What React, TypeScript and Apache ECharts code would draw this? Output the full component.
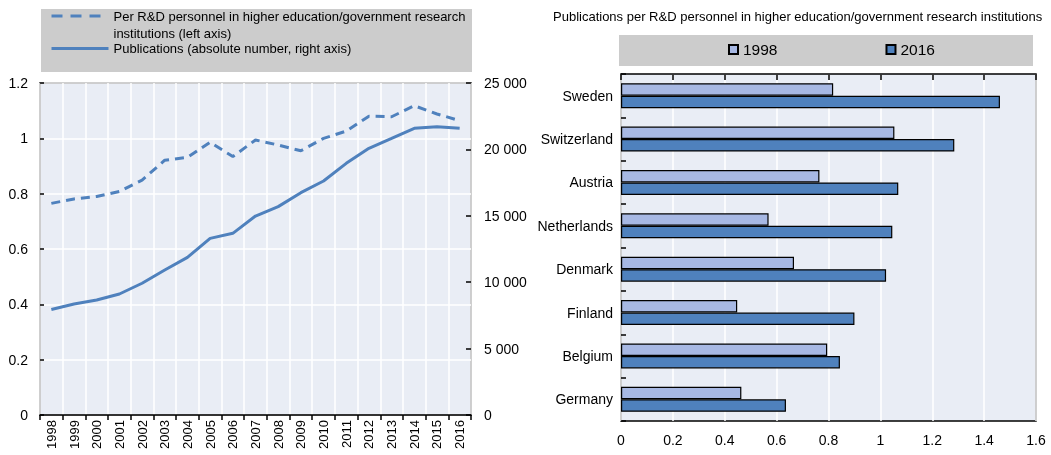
import React, { useEffect, useRef } from "react";
import * as echarts from "echarts";

const years = ["1998","1999","2000","2001","2002","2003","2004","2005","2006","2007","2008","2009","2010","2011","2012","2013","2014","2015","2016"];
const perPersonnel = [0.765,0.781,0.79,0.808,0.849,0.921,0.931,0.986,0.934,0.994,0.976,0.955,1.0,1.026,1.08,1.078,1.118,1.088,1.064];
const publications = [7950,8360,8660,9110,9920,10920,11870,13300,13680,14980,15690,16740,17620,18950,20080,20830,21590,21710,21590];

const countries = ["Sweden","Switzerland","Austria","Netherlands","Denmark","Finland","Belgium","Germany"];
const val1998 = [0.818,1.054,0.765,0.569,0.667,0.448,0.795,0.464];
const val2016 = [1.461,1.285,1.069,1.046,1.022,0.9,0.844,0.636];

const leftTicks = { min: 0, max: 1.2, interval: 0.2 };
const rightTicks = { min: 0, max: 25000, interval: 5000 };
const barTicks = { min: 0, max: 1.6, interval: 0.2 };

const nameDashed = "Per R&D personnel in higher education/government research\ninstitutions (left axis)";
const nameSolid = "Publications (absolute number, right axis)";
const chartTitle = "Publications per R&D personnel in higher education/government research institutions";

const BLUE = "#4f81bd";
const LIGHT = "#a7b8e3";
const BG = "#e9edf5";
const FONT = "Liberation Sans";

const fmtThousands = (v: number) => String(v).replace(/\B(?=(\d{3})+(?!\d))/g, " ");

export default function App() {
  const ref = useRef<HTMLDivElement>(null);
  useEffect(() => {
    if (!ref.current) return;
    const chart = echarts.init(ref.current, null, { renderer: "svg" });
    const option: any = {
      animation: false,
      textStyle: { fontFamily: FONT, color: "#000" },
      title: {
        text: chartTitle,
        left: 553,
        top: 10,
        padding: 0,
        textStyle: { fontSize: 13, fontWeight: "normal", color: "#000", fontFamily: FONT },
      },
      graphic: [
        { type: "rect", shape: { x: 41, y: 9, width: 431, height: 63 }, style: { fill: "#cccccc" }, z: 0 },
        { type: "rect", shape: { x: 619, y: 35, width: 414, height: 31 }, style: { fill: "#cccccc" }, z: 0 },
      ],
      legend: [
        {
          data: [nameDashed],
          formatter: (n: string) => "\n" + n,
          left: 50,
          top: -9.5,
          padding: 0,
          itemWidth: 57,
          itemHeight: 14,
          itemGap: 0,
          itemTextGap: 2,
          itemStyle: { opacity: 0 },
          lineStyle: { width: 3, type: [11, 8], color: BLUE },
          textStyle: { fontSize: 13, lineHeight: 17, color: "#000", fontFamily: FONT },
        },
        {
          data: [nameSolid],
          left: 50,
          top: 42,
          padding: 0,
          itemWidth: 57,
          itemHeight: 14,
          itemTextGap: 2,
          itemStyle: { opacity: 0 },
          lineStyle: { width: 3, color: BLUE },
          textStyle: { fontSize: 13, color: "#000", fontFamily: FONT },
        },
        {
          data: ["1998", "2016"],
          left: 728,
          top: 41.5,
          padding: 0,
          icon: "rect",
          itemWidth: 9,
          itemHeight: 9,
          itemGap: 108,
          itemTextGap: 1,
          textStyle: { fontSize: 15.5, color: "#000", fontFamily: FONT },
        },
      ],
      grid: [
        { left: 40, top: 83, width: 431, height: 332, show: true, backgroundColor: BG, borderColor: "#000", borderWidth: 1.5 },
        { left: 621, top: 74, width: 415, height: 347, show: true, backgroundColor: BG, borderColor: "#000", borderWidth: 1.5 },
      ],
      xAxis: [
        {
          type: "category",
          gridIndex: 0,
          data: years,
          boundaryGap: true,
          axisLine: { show: true, lineStyle: { color: "#000", width: 1.5 } },
          axisTick: { show: true, inside: false, length: 5, interval: 0, lineStyle: { color: "#000", width: 1.5 } },
          axisLabel: { rotate: 90, interval: 0, fontSize: 13, margin: 5, color: "#000", fontFamily: FONT },
          splitLine: { show: true, interval: 0, lineStyle: { color: "#ffffff", width: 1.5 } },
        },
        {
          type: "value",
          gridIndex: 1,
          position: "bottom",
          ...barTicks,
          axisLine: { show: false },
          axisTick: { show: false },
          axisLabel: { fontSize: 14, margin: 12, color: "#000", fontFamily: FONT },
          splitLine: { show: true, lineStyle: { color: "#ffffff", width: 1.5 } },
        },
        {
          type: "value",
          gridIndex: 1,
          position: "top",
          ...barTicks,
          axisLine: { show: false },
          axisTick: { show: true, inside: true, length: 6, lineStyle: { color: "#000", width: 1.5 } },
          axisLabel: { show: false },
          splitLine: { show: false },
        },
      ],
      yAxis: [
        {
          type: "value",
          gridIndex: 0,
          position: "left",
          ...leftTicks,
          axisLine: { show: false },
          axisTick: { show: true, inside: true, length: 4, lineStyle: { color: "#000", width: 1.5 } },
          axisLabel: { fontSize: 14, margin: 12, color: "#000", fontFamily: FONT },
          splitLine: { show: true, lineStyle: { color: "#ffffff", width: 1.5 } },
        },
        {
          type: "value",
          gridIndex: 0,
          position: "right",
          ...rightTicks,
          axisLine: { show: false },
          axisTick: { show: true, inside: true, length: 5, lineStyle: { color: "#000", width: 1.5 } },
          axisLabel: { fontSize: 14, margin: 13, color: "#000", fontFamily: FONT, formatter: fmtThousands },
          splitLine: { show: false },
        },
        {
          type: "category",
          gridIndex: 1,
          data: countries,
          inverse: true,
          axisLine: { show: false },
          axisTick: { show: true, inside: true, length: 5, lineStyle: { color: "#000", width: 1.5 } },
          axisLabel: { fontSize: 14, margin: 8, color: "#000", fontFamily: FONT },
          splitLine: { show: false },
        },
      ],
      series: [
        {
          name: nameDashed,
          type: "line",
          xAxisIndex: 0,
          yAxisIndex: 0,
          data: perPersonnel,
          symbol: "none",
          lineStyle: { color: BLUE, width: 3, type: [9, 6] },
          itemStyle: { color: BLUE },
        },
        {
          name: nameSolid,
          type: "line",
          xAxisIndex: 0,
          yAxisIndex: 1,
          data: publications,
          symbol: "none",
          lineStyle: { color: BLUE, width: 3 },
          itemStyle: { color: BLUE },
        },
        {
          name: "1998",
          type: "bar",
          xAxisIndex: 1,
          yAxisIndex: 2,
          data: val1998,
          barWidth: 12.5,
          barGap: "0%",
          itemStyle: { color: LIGHT, borderColor: "#000", borderWidth: 1.2 },
        },
        {
          name: "2016",
          type: "bar",
          xAxisIndex: 1,
          yAxisIndex: 2,
          data: val2016,
          barWidth: 12.5,
          barGap: "0%",
          itemStyle: { color: BLUE, borderColor: "#000", borderWidth: 1.2 },
        },
      ],
    };
    chart.setOption(option);
    return () => chart.dispose();
  }, []);
  return <div ref={ref} style={{ position: "fixed", left: 0, top: 0, width: 1051, height: 455 }} />;
}
